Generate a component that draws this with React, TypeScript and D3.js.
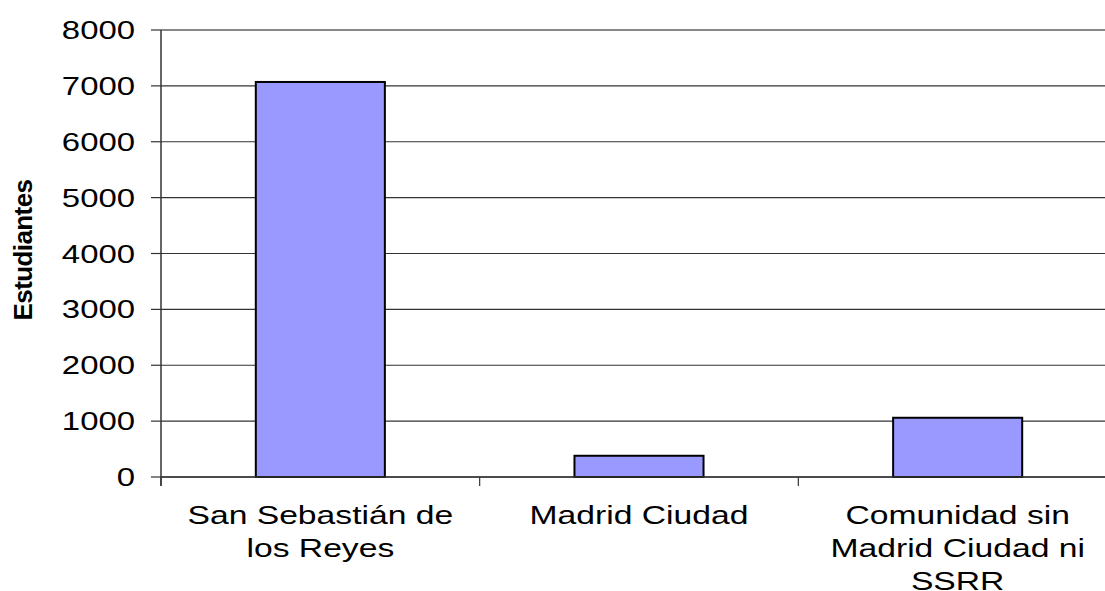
import React from "react";
import * as d3 from "d3";

const categories: string[][] = [
  ["San Sebastián de", "los Reyes"],
  ["Madrid Ciudad"],
  ["Comunidad sin", "Madrid Ciudad ni", "SSRR"],
];
const categoryKeys = ["ssrr", "madrid", "comunidad"];
const values = [7070, 380, 1060];
const yTicks = [0, 1000, 2000, 3000, 4000, 5000, 6000, 7000, 8000];
const yLabel = "Estudiantes";

const W = 1105;
const H = 591;
const left = 161;
const right = 1117;
const top = 30;
const bottom = 477;
const FONT = "Liberation Sans, Arial, Helvetica, sans-serif";
const FS = 25.5;

export default function App() {
  const x = d3
    .scaleBand<string>()
    .domain(categoryKeys)
    .range([left, right])
    .paddingInner(0.595)
    .paddingOuter(0.2975);
  const y = d3.scaleLinear().domain([0, 8000]).range([bottom, top]);
  const step = x.step();
  const boundaries = d3.range(categoryKeys.length + 1).map((i) => left + i * step);

  return (
    <svg
      width={W}
      height={H}
      style={{ position: "absolute", left: 0, top: 0, background: "#fff" }}
    >
      {yTicks.map((t) => (
        <line
          key={"g" + t}
          x1={left}
          x2={right}
          y1={y(t)}
          y2={y(t)}
          stroke={t === 8000 ? "#888" : "#333"}
          strokeWidth={t === 8000 ? 2 : 1.2}
        />
      ))}
      {values.map((v, i) => (
        <rect
          key={"b" + i}
          x={x(categoryKeys[i])!}
          y={y(v)}
          width={x.bandwidth()}
          height={y(0) - y(v)}
          fill="#9999FF"
          stroke="#000"
          strokeWidth={2}
        />
      ))}
      <line x1={left} x2={left} y1={top} y2={bottom + 9} stroke="#333" strokeWidth={1.5} />
      <line x1={left} x2={right} y1={bottom} y2={bottom} stroke="#333" strokeWidth={1.5} />
      {yTicks.map((t) => (
        <g key={"t" + t}>
          <line x1={left - 10} x2={left} y1={y(t)} y2={y(t)} stroke="#333" strokeWidth={1.2} />
          <g transform={`translate(${135},${y(t) + 9}) scale(1.29,1)`}>
            <text textAnchor="end" fontFamily={FONT} fontSize={FS} fill="#000">
              {t}
            </text>
          </g>
        </g>
      ))}
      {boundaries.map((b, i) => (
        <line key={"c" + i} x1={b} x2={b} y1={bottom} y2={bottom + 9} stroke="#333" strokeWidth={1.2} />
      ))}
      {categories.map((lines, i) => {
        const cx = x(categoryKeys[i])! + x.bandwidth() / 2;
        return lines.map((ln, j) => (
          <g key={"l" + i + j} transform={`translate(${cx},${524 + j * 33}) scale(1.32,1)`}>
            <text textAnchor="middle" fontFamily={FONT} fontSize={FS} fill="#000">
              {ln}
            </text>
          </g>
        ));
      })}
      <text
        transform={`translate(32,250) rotate(-90)`}
        textAnchor="middle"
        fontFamily={FONT}
        fontSize={26}
        fontWeight="bold"
        letterSpacing={-0.6}
        fill="#000"
      >
        {yLabel}
      </text>
    </svg>
  );
}
